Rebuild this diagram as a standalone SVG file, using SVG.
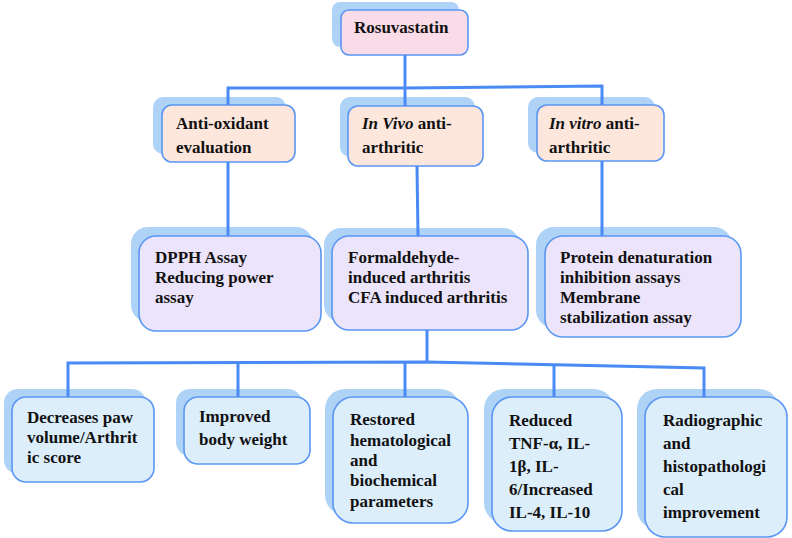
<svg xmlns="http://www.w3.org/2000/svg" width="792" height="538" viewBox="0 0 792 538">
<style>
.sh{fill:#afd3f6;stroke:none}
.bx{stroke:#5b97f2;stroke-width:1.6}
.pink{fill:#fadbe8}
.peach{fill:#fde6dc}
.lav{fill:#ebe4fa}
.blue{fill:#ddeefb}
text{font-family:"Liberation Serif","Times New Roman",serif;font-weight:bold;font-size:17px;fill:#111}
.it{font-style:italic}
#connectors path{fill:none;stroke:#4a8af5;stroke-width:3}
</style>
<rect width="792" height="538" fill="#ffffff"/>
<g id="n-rosuvastatin">
<rect class="sh" x="332" y="2" width="127" height="45" rx="8"/>
<rect class="bx pink" x="341" y="10" width="127" height="45" rx="8"/>
<text x="354" y="33">Rosuvastatin</text>
</g>
<g id="n-antioxidant">
<rect class="sh" x="153" y="97" width="133" height="57" rx="10"/>
<rect class="bx peach" x="162" y="105" width="133" height="57" rx="10"/>
<text x="176" y="129">Anti-oxidant</text>
<text x="176" y="153">evaluation</text>
</g>
<g id="n-invivo">
<rect class="sh" x="340" y="97" width="135" height="60" rx="10"/>
<rect class="bx peach" x="348" y="106" width="135" height="60" rx="10"/>
<text x="362" y="129"><tspan class="it">In Vivo</tspan> anti-</text>
<text x="362" y="153">arthritic</text>
</g>
<g id="n-invitro">
<rect class="sh" x="528" y="97" width="127" height="56" rx="10"/>
<rect class="bx peach" x="537" y="105" width="127" height="56" rx="10"/>
<text x="549" y="129"><tspan class="it">In vitro</tspan> anti-</text>
<text x="549" y="153">arthritic</text>
</g>
<g id="n-dpph">
<rect class="sh" x="131" y="227" width="182" height="95" rx="17"/>
<rect class="bx lav" x="139" y="236" width="182" height="95" rx="17"/>
<text x="155" y="263">DPPH Assay</text>
<text x="155" y="283">Reducing power</text>
<text x="155" y="303">assay</text>
</g>
<g id="n-formaldehyde">
<rect class="sh" x="324" y="228" width="196" height="94" rx="17"/>
<rect class="bx lav" x="332" y="236" width="196" height="94" rx="17"/>
<text x="348" y="263">Formaldehyde-</text>
<text x="348" y="283">induced arthritis</text>
<text x="348" y="303">CFA induced arthritis</text>
</g>
<g id="n-protein">
<rect class="sh" x="536" y="227" width="196" height="101" rx="18"/>
<rect class="bx lav" x="545" y="236" width="196" height="101" rx="18"/>
<text x="560" y="263">Protein denaturation</text>
<text x="560" y="283">inhibition assays</text>
<text x="560" y="303">Membrane</text>
<text x="560" y="323">stabilization assay</text>
</g>
<g id="n-paw">
<rect class="sh" x="4" y="389" width="142" height="85" rx="14"/>
<rect class="bx blue" x="12" y="397" width="142" height="85" rx="14"/>
<text x="27" y="423">Decreases paw</text>
<text x="27" y="443">volume/Arthrit</text>
<text x="27" y="463">ic score</text>
</g>
<g id="n-weight">
<rect class="sh" x="176" y="389" width="126" height="67" rx="14"/>
<rect class="bx blue" x="184" y="397" width="126" height="67" rx="14"/>
<text x="199" y="422">Improved</text>
<text x="199" y="445">body weight</text>
</g>
<g id="n-hematological">
<rect class="sh" x="325" y="389" width="135" height="126" rx="20"/>
<rect class="bx blue" x="333" y="397" width="135" height="126" rx="20"/>
<text x="350" y="425">Restored</text>
<text x="350" y="446">hematological</text>
<text x="350" y="466">and</text>
<text x="350" y="486">biochemical</text>
<text x="350" y="507">parameters</text>
</g>
<g id="n-cytokines">
<rect class="sh" x="484" y="389" width="130" height="134" rx="20"/>
<rect class="bx blue" x="492" y="397" width="130" height="134" rx="20"/>
<text x="509" y="426">Reduced</text>
<text x="509" y="449">TNF-α, IL-</text>
<text x="509" y="472">1β, IL-</text>
<text x="509" y="495">6/Increased</text>
<text x="509" y="518">IL-4, IL-10</text>
</g>
<g id="n-radiographic">
<rect class="sh" x="637" y="389" width="142" height="140" rx="20"/>
<rect class="bx blue" x="645" y="397" width="142" height="140" rx="20"/>
<text x="663" y="426">Radiographic</text>
<text x="663" y="449">and</text>
<text x="663" y="472">histopathologi</text>
<text x="663" y="495">cal</text>
<text x="663" y="518">improvement</text>
</g>
<g id="connectors">
<path d="M405 55V88"/>
<path d="M228 105V88L405 88L602 86V105"/>
<path d="M405 88V106"/>
<path d="M228 162V236"/>
<path d="M417 166L418 236"/>
<path d="M602 161V236"/>
<path d="M427 330V362"/>
<path d="M68 397V363L427 362L704 368V397"/>
<path d="M238 363V397"/>
<path d="M405 362V397"/>
<path d="M554 366V397"/>
</g>
</svg>
